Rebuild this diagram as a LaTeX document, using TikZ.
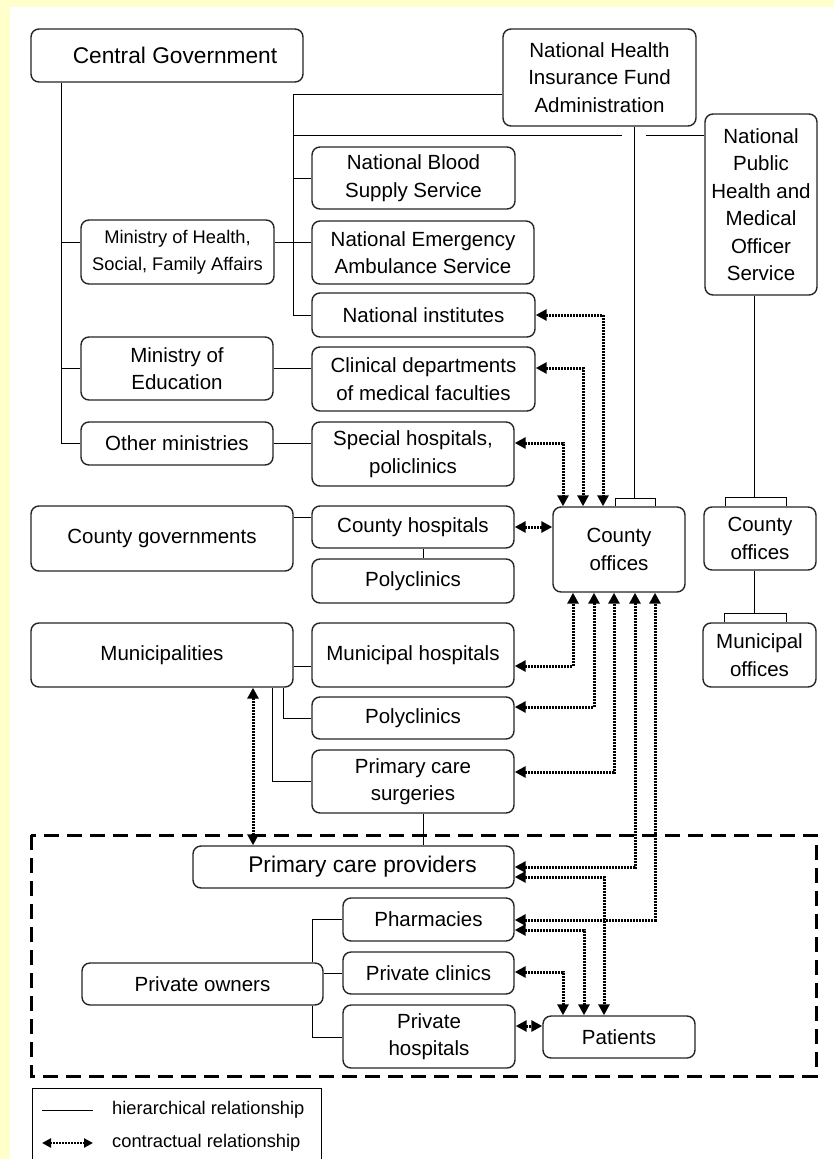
\documentclass[tikz,border=0pt]{standalone}
\usepackage{fontspec}
\setmainfont{Liberation Sans}
\usetikzlibrary{arrows.meta}
\definecolor{bgyellow}{RGB}{255,255,204}
\begin{document}
\begin{tikzpicture}[x=1pt,y=-1pt,
  box/.style={draw=black!85, line width=1.4pt, rounded corners=8pt, fill=white, align=center, inner sep=0pt, font=\fontsize{20.5}{27.5}\selectfont},
  bigtext/.style={font=\fontsize{22.7}{28}\selectfont},
  smalltext/.style={font=\fontsize{18.3}{27}\selectfont},
  hier/.style={draw=black, line width=1pt},
  contract/.style={draw=black, line width=3pt, dash pattern=on 2pt off 1pt, {Triangle[length=11pt,width=11pt]}-{Triangle[length=11pt,width=11pt]}},
  dbox/.style={draw=black, line width=3pt, dash pattern=on 15pt off 8pt},
]
\useasboundingbox (0,0) rectangle (834,1159);
\fill[bgyellow] (0,0) rectangle (834,1159);
\fill[white] (10,7) rectangle (834,1159);

% dashed region
\draw[dbox] (31,835) rectangle (816,1076);

% nodes
\node[box,bigtext,minimum width=272pt,minimum height=53pt] (cg) at (167,55.5) {\hspace*{16pt}Central Government};
\node[box,minimum width=193pt,minimum height=97pt] (nhifa) at (599.5,77.5) {National Health\\Insurance Fund\\Administration};
\node[box,smalltext,minimum width=193pt,minimum height=64pt] (mh) at (177.5,252) {Ministry of Health,\\Social, Family Affairs};
\node[box,minimum width=203pt,minimum height=62pt] (nbs) at (413.5,178) {National Blood\\Supply Service};
\node[box,minimum width=222pt,minimum height=63pt] (nea) at (423,252.5) {National Emergency\\Ambulance Service};
\node[box,minimum width=223pt,minimum height=44pt] (ni) at (423.5,315) {National institutes};
\node[box,minimum width=112pt,minimum height=181pt] (nph) at (761,204.5) {National\\Public\\Health and\\Medical\\Officer\\Service};
\node[box,minimum width=192pt,minimum height=63pt] (me) at (177,368.5) {Ministry of\\Education};
\node[box,minimum width=223pt,minimum height=64pt] (cd) at (423.5,379) {Clinical departments\\of medical faculties};
\node[box,minimum width=192pt,minimum height=43pt] (om) at (177,443.5) {Other ministries};
\node[box,minimum width=202pt,minimum height=64pt] (sh) at (413,454) {Special hospitals,\\policlinics};
\node[box,minimum width=262pt,minimum height=65pt] (cgov) at (162,538.5) {County governments};
\node[box,minimum width=202pt,minimum height=42pt] (ch) at (413,527) {County hospitals};
\node[box,minimum width=202pt,minimum height=44pt] (pca) at (413,581) {Polyclinics};
\node[box,minimum width=132pt,minimum height=85pt] (co1) at (619,549.5) {County\\offices};
\node[box,minimum width=112pt,minimum height=63pt] (co2) at (760,538.5) {County\\offices};
\node[box,minimum width=113pt,minimum height=64pt] (mo) at (759.5,655) {Municipal\\offices};
\node[box,minimum width=262pt,minimum height=64pt] (mun) at (162,655) {Municipalities};
\node[box,minimum width=202pt,minimum height=64pt] (mhosp) at (413,655) {Municipal hospitals};
\node[box,minimum width=202pt,minimum height=42pt] (pcb) at (413,718) {Polyclinics};
\node[box,minimum width=202pt,minimum height=63pt] (pcs) at (413,781.5) {Primary care\\surgeries};
\node[box,bigtext,minimum width=321pt,minimum height=42pt] (pcp) at (353.5,867) {\hspace*{18pt}Primary care providers};
\node[box,minimum width=171pt,minimum height=43pt] (ph) at (428.5,919.5) {Pharmacies};
\node[box,minimum width=171pt,minimum height=42pt] (pcl) at (428.5,973) {Private clinics};
\node[box,minimum width=172pt,minimum height=63pt] (phos) at (429,1036.5) {Private\\hospitals};
\node[box,minimum width=152pt,minimum height=42pt] (pat) at (619,1037) {Patients};
\node[box,minimum width=241pt,minimum height=42pt] (po) at (202.5,984) {Private owners};

% hierarchical relationships
\draw[hier] (cg.south -| 61,0) |- (om.west);
\draw[hier] (mh.west |- 0,242) -- (61,242);
\draw[hier] (me.west) -- (61,368.5);
\draw[hier] (mh.east |- 0,242) -- (nea.west |- 0,242);
\draw[hier] (nhifa.west |- 0,94) -| (293,315) -- (ni.west);
\draw[hier] (293,178) -- (nbs.west);
\draw[hier] (293,135) -- (622,135);
\draw[hier] (646,135) -- (nph.west |- 0,135);
\draw[hier] (nhifa.south -| 634,0) -- (634,498);
\draw[hier] (co1.north -| 615,0) |- (655,498) -- (co1.north -| 655,0);
\draw[hier] (nph.south -| 754,0) -- (754,497);
\draw[hier] (co2.north -| 725,0) |- (786,497) -- (co2.north -| 786,0);
\draw[hier] (co2.south -| 754,0) -- (754,613);
\draw[hier] (mo.north -| 724,0) |- (786,613) -- (mo.north -| 786,0);
\draw[hier] (me.east) -- (me.east -| cd.west);
\draw[hier] (om.east) -- (om.east -| sh.west);
\draw[hier] (cgov.east |- 0,517) -- (ch.west |- 0,517);
\draw[hier] (ch.south -| 423,0) -- (pca.north -| 423,0);
\draw[hier] (mun.east |- 0,666) -- (mhosp.west |- 0,666);
\draw[hier] (mun.south -| 283,0) |- (pcb.west);
\draw[hier] (mun.south -| 272,0) |- (pcs.west);
\draw[hier] (pcs.south -| 423,0) -- (pcp.north -| 423,0);
\draw[hier] (po.north -| 312,0) |- (ph.west);
\draw[hier] (po.east |- 0,973) -- (pcl.west);
\draw[hier] (po.south -| 312,0) |- (phos.west |- 0,1037);

% contractual relationships
\draw[contract] (ni.east) -| (co1.north -| 603,0);
\draw[contract] (cd.east |- 0,368) -| (co1.north -| 583,0);
\draw[contract] (sh.east |- 0,443) -| (co1.north -| 563,0);
\draw[contract] (ch.east) -- (ch.east -| co1.west);
\draw[contract] (mhosp.east |- 0,666) -| (co1.south -| 573,0);
\draw[contract] (pcb.east |- 0,707) -| (co1.south -| 594,0);
\draw[contract] (pcs.east |- 0,772) -| (co1.south -| 614,0);
\draw[contract] (pcp.east |- 0,867) -| (co1.south -| 635,0);
\draw[contract] (ph.east |- 0,920) -| (co1.south -| 655,0);
\draw[contract] (pcp.east |- 0,877) -| (pat.north -| 604,0);
\draw[contract] (ph.east |- 0,930) -| (pat.north -| 584,0);
\draw[contract] (pcl.east |- 0,972) -| (pat.north -| 563,0);
\draw[contract] (phos.east |- 0,1026) -- (pat.west |- 0,1026);
\draw[contract] (mun.south -| 253,0) -- (pcp.north -| 253,0);

% legend
\draw[line width=1pt] (32,1165) |- (321,1088) -- (321,1165);
\coordinate (l1a) at (42,1110);
\coordinate (l1b) at (93,1110);
\coordinate (l2a) at (42,1143);
\coordinate (l2b) at (93,1143);
\draw[hier] (l1a) -- (l1b);
\draw[draw=black, line width=2.4pt, dash pattern=on 2pt off 1pt, {Triangle[length=9pt,width=9pt]}-{Triangle[length=9pt,width=9pt]}] (l2a) -- (l2b);
\node[anchor=west,inner sep=0pt,smalltext] (lt1) at (112,1110) {hierarchical relationship};
\node[anchor=west,inner sep=0pt,smalltext] (lt2) at (112,1143) {contractual relationship};
\end{tikzpicture}
\end{document}
